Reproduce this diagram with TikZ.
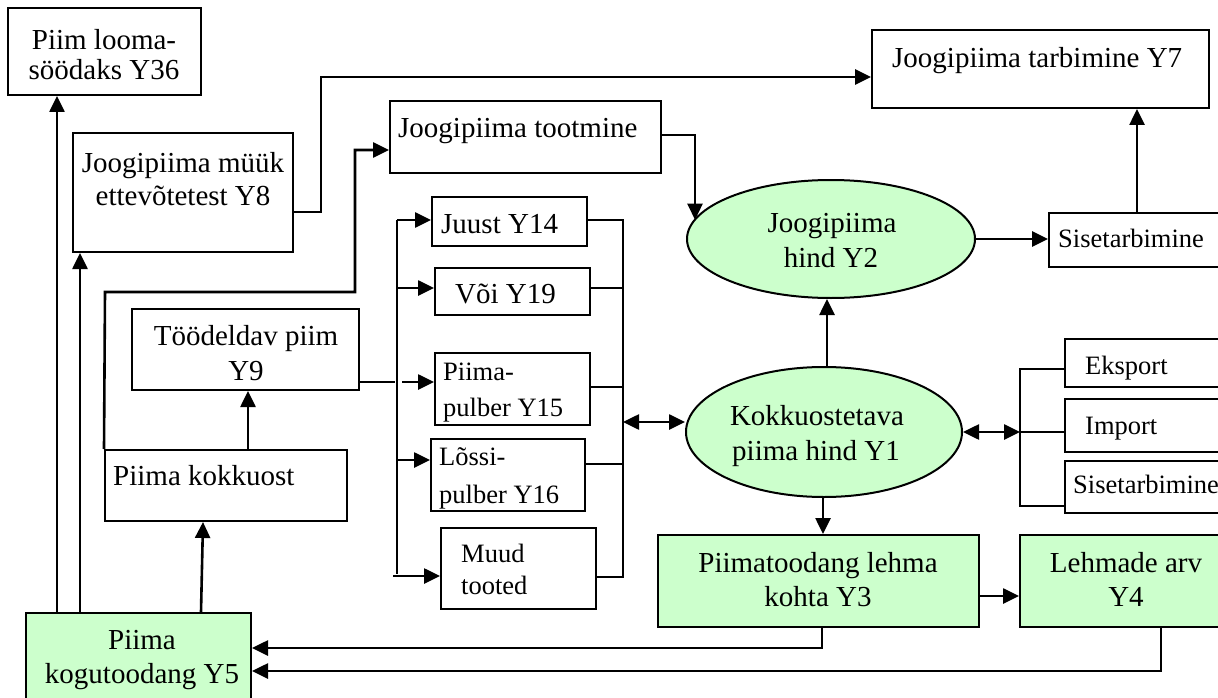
\documentclass[tikz,border=0pt]{standalone}
\usepackage{fontspec}
\setmainfont{Liberation Serif}
\usetikzlibrary{arrows.meta,shapes.geometric}
\definecolor{lgreen}{RGB}{204,255,204}
\begin{document}
\begin{tikzpicture}[x=1pt,y=-1pt,
  box/.style={draw, line width=2pt, rectangle, inner sep=0pt},
  gbox/.style={box, fill=lgreen},
  ell/.style={draw, line width=2pt, ellipse, fill=lgreen, inner sep=0pt},
  ln/.style={line width=2.6pt},
  arr/.style={ln, -{Triangle[length=16pt,width=15pt]}},
  darr/.style={ln, {Triangle[length=16pt,width=15pt]}-{Triangle[length=16pt,width=15pt]}},
  big/.style={font=\fontsize{29}{34}\selectfont, inner sep=0pt},
  sm/.style={font=\fontsize{26.5}{31}\selectfont, inner sep=0pt}]
\useasboundingbox (0,0) rectangle (1218,698);
\clip (0,0) rectangle (1218,698);
\fill[white] (0,0) rectangle (1218,698);
% boxes
\node[box, minimum width=193pt, minimum height=87pt] (y36) at (104.5,51.5) {};
\node[box, minimum width=220pt, minimum height=119pt] (y8) at (183,192.5) {};
\node[box, minimum width=271pt, minimum height=72pt] (toot) at (525.5,137) {};
\node[box, minimum width=337pt, minimum height=78pt] (y7) at (1040.5,69) {};
\node[box, minimum width=181pt, minimum height=54pt] (sis1) at (1139.5,240) {};
\node[box, minimum width=155pt, minimum height=49pt] (y14) at (509.5,221.5) {};
\node[box, minimum width=155pt, minimum height=47pt] (y19) at (512.5,291.5) {};
\node[box, minimum width=227pt, minimum height=81pt] (y9) at (245.5,349.5) {};
\node[box, minimum width=155pt, minimum height=72pt] (y15) at (512.5,389) {};
\node[box, minimum width=242pt, minimum height=71pt] (kok) at (226,485.5) {};
\node[box, minimum width=154pt, minimum height=72pt] (y16) at (508,475) {};
\node[box, minimum width=155pt, minimum height=81pt] (muud) at (518.5,568.5) {};
\node[gbox, minimum width=321pt, minimum height=92pt] (y3) at (818.5,581) {};
\node[gbox, minimum width=210pt, minimum height=92pt] (y4) at (1125,581) {};
\node[gbox, minimum width=225pt, minimum height=107pt] (y5) at (138.5,666.5) {};
\node[box, minimum width=165pt, minimum height=48pt] (eks) at (1147.5,363) {};
\node[box, minimum width=165pt, minimum height=53pt] (imp) at (1147.5,425.5) {};
\node[box, minimum width=165pt, minimum height=52pt] (sis2) at (1147.5,487) {};
\node[ell, minimum width=288pt, minimum height=118pt] (y2) at (831,239) {};
\node[ell, minimum width=276pt, minimum height=130pt] (y1) at (824,432) {};
% texts
\node[big, anchor=base] (t36a) at (104,50) {Piim looma-};
\node[big, anchor=base] (t36b) at (104,80) {söödaks Y36};
\node[big, anchor=base] (t8a) at (183,172) {Joogipiima müük};
\node[big, anchor=base] (t8b) at (183,205) {ettevõtetest Y8};
\node[big, anchor=base west] (ttoot) at (398,138) {Joogipiima tootmine};
\node[big, anchor=base west] (t7) at (892,68) {Joogipiima tarbimine Y7};
\node[sm, anchor=base west] (tsis1) at (1058,247) {Sisetarbimine};
\node[big, anchor=base west] (t14) at (441,233) {Juust Y14};
\node[big, anchor=base west] (t19) at (455,303) {Või Y19};
\node[big, anchor=base] (t9a) at (246,345) {Töödeldav piim};
\node[big, anchor=base] (t9b) at (246,380) {Y9};
\node[big, anchor=base west] (tkok) at (113,485) {Piima kokkuost};
\node[sm, anchor=base west] (t15a) at (443,380) {Piima-};
\node[sm, anchor=base west] (t15b) at (443,416) {pulber Y15};
\node[sm, anchor=base west] (t16a) at (439,465) {Lõssi-};
\node[sm, anchor=base west] (t16b) at (439,503) {pulber Y16};
\node[sm, anchor=base west] (tmuuda) at (461,562) {Muud};
\node[sm, anchor=base west] (tmuudb) at (461,594) {tooted};
\node[big, anchor=base] (t2a) at (832,232) {Joogipiima};
\node[big, anchor=base] (t2b) at (831,267) {hind Y2};
\node[big, anchor=base] (t1a) at (817,425) {Kokkuostetava};
\node[big, anchor=base] (t1b) at (816,460) {piima hind Y1};
\node[sm, anchor=base west] (teks) at (1085,374) {Eksport};
\node[sm, anchor=base west] (timp) at (1085,434) {Import};
\node[sm, anchor=base west] (tsis2) at (1073,493) {Sisetarbimine};
\node[big, anchor=base] (t3a) at (818,572) {Piimatoodang lehma};
\node[big, anchor=base] (t3b) at (818,606) {kohta Y3};
\node[big, anchor=base] (t4a) at (1126,572) {Lehmade arv};
\node[big, anchor=base] (t4b) at (1126,606) {Y4};
\node[big, anchor=base] (t5a) at (142,649) {Piima};
\node[big, anchor=base] (t5b) at (142,683) {kogutoodang Y5};
% connectors
\draw[arr] (y5.north -| 57,0) -- (y36.south -| 57,0);
\draw[arr] (y5.north -| 80,0) -- (y8.south -| 80,0);
\draw[arr] (y5.north -| 201,0) -- (kok.south -| 203,0);
\draw[arr] (kok.north -| 248,0) -- (y9.south -| 248,0);
\draw[arr] (kok.north west) -- (105,292) -- (355,292) -- (355,150) -- (toot.west |- 0,150);
\draw[arr] (y8.east |- 0,212) -- (321,212) -- (321,77) -- (y7.west |- 0,77);
\draw[arr] (toot.east |- 0,135) -- (695,135) -- (y2.172 -| 695,0);
\draw[arr] (y1.north -| 827,0) -- (y2.south -| 827,0);
\draw[arr] (y2.east) -- (sis1.west |- y2.east);
\draw[arr] (sis1.north -| 1137,0) -- (y7.south -| 1137,0);
% product buses
\draw[ln] (y9.east |- 0,382) -- (395,382);
\draw[ln] (397,220) -- (397,574);
\draw[arr] (397,220) -- (y14.west |- 0,220);
\draw[arr] (397,288) -- (y19.west |- 0,288);
\draw[arr] (402,382) -- (y15.west |- 0,382);
\draw[arr] (397,460) -- (y16.west |- 0,460);
\draw[arr] (393,576) -- (muud.west |- 0,576);
\draw[ln] (y14.east |- 0,220) -- (623,220) -- (623,577) -- (muud.east |- 0,577);
\draw[ln] (y19.east |- 0,288) -- (623,288);
\draw[ln] (y15.east |- 0,387) -- (623,387);
\draw[ln] (y16.east |- 0,464) -- (623,464);
\draw[darr] (623,422) -- (y1.west |- 0,422);
% trade bus
\draw[darr] (y1.east) -- (1020,0 |- y1.east);
\draw[ln] (eks.west |- 0,369) -- (1020,369) -- (1020,506) -- (sis2.west |- 0,506);
\draw[ln] (1020,0 |- y1.east) -- (imp.west |- y1.east);
% lower
\draw[arr] (y1.south -| 823,0) -- (y3.north -| 823,0);
\draw[arr] (y3.east |- 0,596) -- (y4.west |- 0,596);
\draw[arr] (y3.south -| 822,0) -- (822,648) -- (y5.east |- 0,648);
\draw[arr] (y4.south -| 1161,0) -- (1161,671) -- (y5.east |- 0,671);
\end{tikzpicture}
\end{document}
